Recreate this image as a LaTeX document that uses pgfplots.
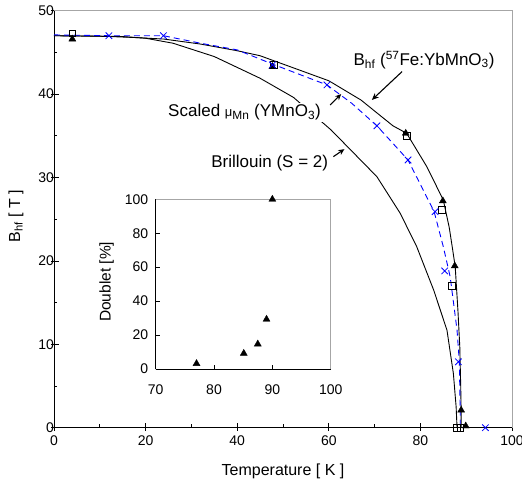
\documentclass[border=0pt]{standalone}
\usepackage{fontspec}
\setmainfont{Liberation Sans}
\usepackage{pgfplots}
\pgfplotsset{compat=1.18}
\usetikzlibrary{arrows.meta}

\definecolor{frame}{gray}{0.65}

\begin{document}
\begin{tikzpicture}
\begin{axis}[
  width=458bp, height=417bp, scale only axis,
  at={(0,0)}, anchor=south west,
  xmin=0, xmax=100, ymin=0, ymax=50,
  axis x line*=bottom, axis y line*=left,
  axis line style={-, line width=0.9pt},
  xtick={0,20,...,100}, ytick={0,10,...,50},
  minor x tick num=1, minor y tick num=1,
  tick align=inside,
  major tick length=5bp, minor tick length=3.5bp,
  tick style={black, line width=0.8pt},
  extra x ticks={0,20,40,60,80,100}, extra x tick labels={},
  extra x tick style={tick align=outside, major tick length=3bp},
  extra y ticks={0,10,20,30,40,50}, extra y tick labels={},
  extra y tick style={tick align=outside, major tick length=3bp},
  clip=false,
  /pgf/number format/assume math mode=true,
  ticklabel style={font=\fontsize{14bp}{16bp}\selectfont},
  xticklabel style={yshift=-5bp},
  yticklabel style={xshift=3.5bp},
  xlabel={Temperature [ K ]},
  ylabel={B\textsubscript{hf} [ T ]},
  label style={font=\fontsize{16bp}{18bp}\selectfont},
  xlabel style={at={(axis description cs:0.5,-0.104)}, anchor=center},
  ylabel style={at={(axis description cs:-0.083,0.507)}, anchor=center},
]
% fit to Bhf (outer solid)
\addplot[black, line width=0.9pt] coordinates {
  (0,47.0) (10,46.95) (17,46.8) (24,46.6) (32,46.0) (40,45.2) (45,44.6)
  (48,44.0) (52,43.2) (60,41.6) (67,39.3) (74,36.2) (77,35.3) (81.4,31.3)
  (85,27.3) (86.3,24) (87,21.5) (87.6,19.3) (88.2,14) (88.6,9.7) (88.8,5)
  (88.9,2) (88.9,0)
};
% Brillouin S=2 (inner solid)
\addplot[black, line width=0.9pt] coordinates {
  (0,47.0) (15,46.9) (20,46.7) (26,46.1) (35,44.5) (45,41.9) (52.3,39.6)
  (60.5,35.7) (70.5,30.1) (75.6,25.7) (79.2,21.7) (82.9,16.5) (85.8,11.7)
  (87.2,6.5) (87.8,2.5) (88.0,0)
};
% scaled muMn (dashed blue)
\addplot[blue, line width=0.9pt, dash pattern=on 6bp off 4bp] coordinates {
  (0,47.1) (12,47.0) (23.9,47.0) (32,46.1) (40,45.3) (47.7,43.6) (59.6,41.1)
  (65,38.9) (70.5,36.2) (77.3,32.1) (83,25.9) (85,21.7) (86.5,18.1)
  (88,11.7) (88.5,7.9) (88.7,1.8) (88.7,0)
};
% squares
\addplot[only marks, mark=square, mark size=3.3bp, black, line width=0.6pt] coordinates {
  (4,47.3) (48,43.5) (77,35.0) (84.7,26.1) (86.9,17.0) (88.0,0) (88.7,0)
};
% triangles
\addplot[only marks, mark=triangle*, mark size=4bp, black] coordinates {
  (4,46.6) (47.7,43.3) (76.8,35.3) (84.9,27.2) (87.5,19.4) (88.9,2.1) (89.9,0.2)
};
% crosses
\addplot[only marks, mark=x, mark size=4.6bp, blue, line width=0.8pt] coordinates {
  (12,47.0) (23.9,47.0) (47.7,43.5) (59.6,41.1) (70.5,36.2) (77.3,32.1)
  (83.2,25.9) (85.3,18.8) (88.3,7.9) (94.2,0)
};
\draw[frame, line width=0.9pt] (rel axis cs:0,1) -- (rel axis cs:1,1) -- (rel axis cs:1,0);

\node[fill=white, inner sep=2bp, font=\fontsize{17bp}{19bp}\selectfont]
  at (axis cs:41.6,37.8) {Scaled {\fontsize{13bp}{13bp}\selectfont μ}\textsubscript{Mn} (YMnO\textsubscript{3})};
\node[fill=white, inner sep=2bp, font=\fontsize{17bp}{19bp}\selectfont]
  at (axis cs:47.1,31.7) {Brillouin (S = 2)};
\node[inner sep=2bp, font=\fontsize{17bp}{19bp}\selectfont]
  at (axis cs:80.8,44.1) {B\textsubscript{hf} (\textsuperscript{57}Fe:YbMnO\textsubscript{3})};
\draw[-{Stealth[length=7bp,width=6bp]}, line width=1.1pt] (axis cs:76.0,42.7) -- (axis cs:69.4,39.3);
\draw[-{Stealth[length=6bp,width=5.5bp]}, line width=1.1pt] (axis cs:60.3,38.7) -- (axis cs:62.7,40.0);
\draw[-{Stealth[length=6bp,width=5.5bp]}, line width=1.1pt] (axis cs:61.0,32.5) -- (axis cs:63.4,33.4);
\end{axis}

\begin{axis}[
  width=175bp, height=169.7bp, scale only axis,
  at={(101.7bp,58.7bp)}, anchor=south west,
  xmin=70, xmax=100, ymin=0, ymax=100,
  axis x line*=bottom, axis y line*=left,
  axis line style={-, line width=0.9pt},
  xtick={70,80,90,100}, ytick={0,20,...,100},
  tick align=inside, major tick length=4bp,
  tick style={black, line width=0.8pt},
  clip=false,
  /pgf/number format/assume math mode=true,
  ticklabel style={font=\fontsize{14bp}{16bp}\selectfont},
  xticklabel style={yshift=-12bp},
  yticklabel style={xshift=-4bp},
  ylabel={Doublet [\%]},
  label style={font=\fontsize{15.5bp}{17bp}\selectfont},
  ylabel style={at={(axis description cs:-0.281,0.514)}, anchor=center},
]
\addplot[only marks, mark=triangle*, mark size=4bp, black] coordinates {
  (77,3.2) (85.1,9.2) (87.5,14.7) (89,29.3) (90,100)
};
\draw[frame, line width=0.9pt] (rel axis cs:0,1) -- (rel axis cs:1,1) -- (rel axis cs:1,0);
\end{axis}
\pgfresetboundingbox
\path (-54bp,-56.3bp) rectangle (468bp,427.7bp);
\end{tikzpicture}
\end{document}
